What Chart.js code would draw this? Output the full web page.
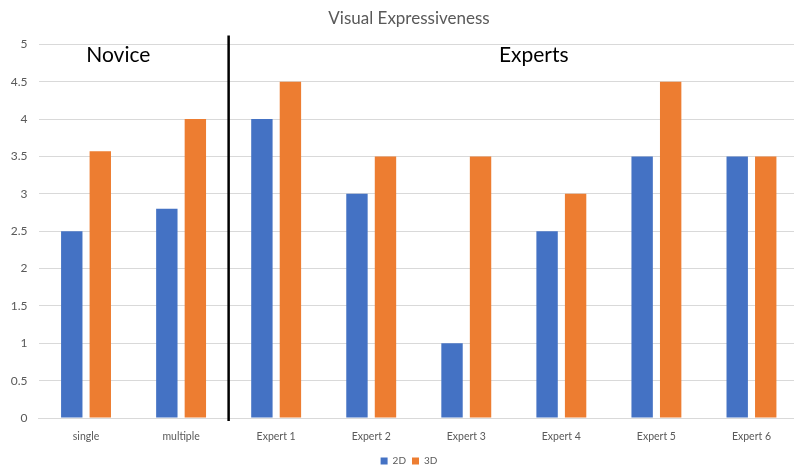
<!DOCTYPE html>
<html>
<head>
<meta charset="utf-8">
<script src="https://cdn.jsdelivr.net/npm/chart.js@4.4.0/dist/chart.umd.min.js"></script>
<style>
  html, body { margin: 0; padding: 0; overflow: hidden; background: #fff; }
  #wrap { width: 794px; height: 468px; overflow: hidden; }
</style>
</head>
<body>
<div id="wrap"><canvas id="chart" width="818" height="468"></canvas></div>
<script>
// categories and values
const categories = ['single', 'multiple', 'Expert 1', 'Expert 2', 'Expert 3', 'Expert 4', 'Expert 5', 'Expert 6'];
const values2D = [2.5, 2.8, 4, 3, 1, 2.5, 3.5, 3.5];
const values3D = [3.57, 4, 4.5, 3.5, 3.5, 3, 4.5, 3.5];
const groupLabels = ['Novice', 'Experts'];

const fontFam = 'Lato, "Open Sans", sans-serif';

// divider line + group labels
const groupPlugin = {
    id: 'groups',
    afterDatasetsDraw(chart) {
        const x = chart.scales.x;
        const y = chart.scales.y;
        const c = chart.ctx;
        const lineX = (x.getPixelForValue(1) + x.getPixelForValue(2)) / 2;
        c.save();
        c.strokeStyle = '#000';
        c.lineWidth = 2.5;
        c.beginPath();
        c.moveTo(lineX, chart.chartArea.top - 9);
        c.lineTo(lineX, chart.chartArea.bottom + 3);
        c.stroke();

        c.fillStyle = '#000';
        c.font = '21px ' + fontFam;
        c.textAlign = 'center';
        c.textBaseline = 'middle';
        const novX = x.getPixelForValue(0) + (x.getPixelForValue(1) - x.getPixelForValue(0)) * 0.34;
        const expX = x.getPixelForValue(4) + (x.getPixelForValue(5) - x.getPixelForValue(4)) * 0.71;
        const ty = y.getPixelForValue(4.85);
        c.fillText(groupLabels[0], novX, ty);
        c.fillText(groupLabels[1], expX, ty);
        c.restore();
    }
};

const ctx = document.getElementById('chart');
new Chart(ctx, {
    type: 'bar',
    data: {
        labels: categories,
        datasets: [
            { label: '2D', data: values2D, backgroundColor: '#4472C4' },
            { label: '3D', data: values3D, backgroundColor: '#ED7D31' }
        ]
    },
    options: {
        responsive: false,
        animation: false,
        categoryPercentage: 0.6,
        barPercentage: 0.75,
        layout: { padding: { top: 0, left: 0, right: 0, bottom: -8 } },
        plugins: {
            title: {
                display: true,
                text: 'Visual Expressiveness',
                color: '#595959',
                font: { family: fontFam, size: 17, weight: 'normal' },
                padding: { top: 8, bottom: 16 }
            },
            legend: {
                position: 'bottom',
                labels: {
                    boxWidth: 7,
                    boxHeight: 7,
                    padding: 6,
                    color: '#595959',
                    font: { family: fontFam, size: 10 }
                }
            },
            tooltip: { enabled: false }
        },
        scales: {
            x: {
                grid: { display: false },
                border: { display: true, color: '#d9d9d9' },
                ticks: { color: '#595959', font: { family: fontFam, size: 10.5 }, padding: 4 },
                afterFit(scale) { scale.height = 32; }
            },
            y: {
                min: 0,
                max: 5,
                ticks: {
                    stepSize: 0.5,
                    color: '#595959',
                    font: { family: fontFam, size: 12 },
                    padding: 11,
                    callback: v => String(v)
                },
                grid: { color: '#d9d9d9', drawTicks: false },
                border: { display: false },
                afterFit(scale) { scale.width = 38.5; }
            },
            // empty right axis, only keeps room so the plot runs past the crop
            y2: {
                position: 'right',
                min: 0,
                max: 1,
                grid: { display: false },
                border: { display: false },
                ticks: { display: false },
                afterFit(scale) { scale.width = 19; }
            }
        }
    },
    plugins: [groupPlugin]
});
</script>
</body>
</html>
